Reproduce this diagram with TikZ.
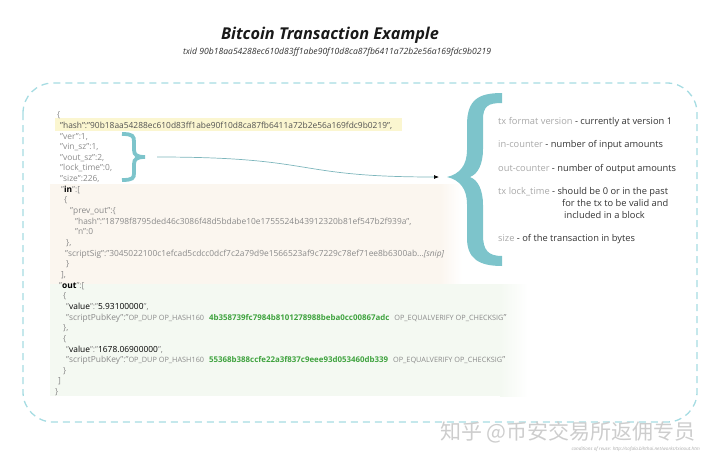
\documentclass[tikz,border=0pt]{standalone}
\usepackage{fontspec}
\setmainfont{Open Sans}
\newfontfamily\cjkfont{Noto Sans CJK SC}
\usetikzlibrary{arrows.meta,positioning}
\definecolor{bracecol}{HTML}{7DC4CB}
\definecolor{framecol}{HTML}{A6DCE2}
\definecolor{jsongray}{HTML}{8A8A8A}
\definecolor{darktext}{HTML}{333333}
\definecolor{lblgray}{HTML}{A8A8A8}
\definecolor{hashgreen}{HTML}{3FA33F}
\definecolor{hashyellow}{HTML}{FBF6D0}
\definecolor{inbeige}{HTML}{FBF6EF}
\definecolor{outgreen}{HTML}{F4F9F2}
\definecolor{wmgray}{HTML}{CDCDCD}
\newcommand{\opcode}[1]{{\fontsize{7.3}{9}\selectfont #1}}
\newcommand{\pubhash}[1]{\textcolor{hashgreen}{\fontsize{7.9}{9}\selectfont\bfseries #1}}

\begin{document}
\begin{tikzpicture}[x=1pt,y=-1pt,
  json/.style={anchor=base west,inner sep=0pt,font=\fontsize{8.4}{9}\selectfont,text=jsongray},
  note/.style={anchor=base west,inner sep=0pt,font=\fontsize{9.3}{10}\selectfont,text=darktext}]
\useasboundingbox (0,0) rectangle (720,461);
% background bands
\fill[hashyellow] (55,118) rectangle (402,131);
\fill[inbeige] (50,184) rectangle (440,284);
\shade[left color=inbeige,right color=white] (440,184) rectangle (462,284);
\fill[outgreen] (50,284) rectangle (500,396);
\shade[left color=outgreen,right color=white] (500,284) rectangle (528,396);
\draw[framecol,line width=1.3pt,dash pattern=on 7pt off 5pt,rounded corners=30pt] (23,83) rectangle (697,422);

% title
\node[font=\bfseries\itshape\fontsize{16.3}{18}\selectfont,text=black!90] (title) at (330,35) {Bitcoin Transaction Example};
\node[font=\itshape\fontsize{8.6}{9}\selectfont,text=darktext] (txid) at (337,52) {txid 90b18aa54288ec610d83ff1abe90f10d8ca87fb6411a72b2e56a169fdc9b0219};

% json lines
\foreach \k/\x/\t in {0/57/\{, 2/60/{"ver":1,}, 3/60/{"vin\_sz":1,}, 4/60/{"vout\_sz":2,},
    5/60/{"lock\_time":0,}, 6/60/{"size":226,}, 8/64/\{, 9/70/{"prev\_out":\{},
    10/75/{"hash":"18798f8795ded46c3086f48d5bdabe10e1755524b43912320b81ef547b2f939a",},
    11/75/{"n":0}, 12/66/{\},}, 14/66/\}, 15/61/{],}, 17/63/\{, 20/63/{\},}, 21/63/\{,
    24/63/\}, 25/58/], 26/55/\}}
  \node[json] (l\k) at (\x,117.7+10.65*\k) {\t};
\node[json,text=darktext!85] (l1) at (60,117.7+10.65) {"hash":"90b18aa54288ec610d83ff1abe90f10d8ca87fb6411a72b2e56a169fdc9b0219",};
\node[json] (l7) at (61,117.7+10.65*7) {"\textcolor{black}{\bfseries in}":[};
\node[json] (l13) at (65,117.7+10.65*13) {"scriptSig":"3045022100c1efcad5cdcc0dcf7c2a79d9e1566523af9c7229c78ef71ee8b6300ab...\textit{[snip]}};
\node[json] (l16) at (59,117.7+10.65*16) {"\textcolor{black}{\bfseries out}":[};
\node[json] (l18) at (66,117.7+10.65*18) {"\textcolor{black}{value}":"\textcolor{black}{5.93100000}",};
\node[json] (l19) at (66,117.7+10.65*19) {"scriptPubKey":"\opcode{OP\_DUP OP\_HASH160}\hspace{5pt}\pubhash{4b358739fc7984b8101278988beba0cc00867adc}\hspace{5pt}\opcode{OP\_EQUALVERIFY OP\_CHECKSIG}"};
\node[json] (l22) at (66,117.7+10.65*22) {"\textcolor{black}{value}":"\textcolor{black}{1678.06900000}",};
\node[json] (l23) at (66,117.7+10.65*23) {"scriptPubKey":"\opcode{OP\_DUP OP\_HASH160}\hspace{5pt}\pubhash{55368b388ccfe22a3f837c9eee93d053460db339}\hspace{5pt}\opcode{OP\_EQUALVERIFY OP\_CHECKSIG}"};

% small brace
\draw[bracecol,line width=3.8pt] (122,134) .. controls (133,134) and (134,136) .. (134,142) -- (134,150)
  .. controls (134,155) and (137,157) .. (145,157) .. controls (137,157) and (134,159) .. (134,164) -- (134,173)
  .. controls (134,178) and (133,180) .. (122,180);
% big brace
\fill[bracecol] (502,93) .. controls (478,93) and (467,100) .. (467,125) -- (467,150)
  .. controls (467,165) and (460,174) .. (447,177) .. controls (460,180) and (467,189) .. (467,204) -- (467,238)
  .. controls (467,258) and (478,266) .. (502,266) -- (502,256)
  .. controls (488,256) and (483,250) .. (483,235) -- (483,205)
  .. controls (483,190) and (478,180) .. (470,177) .. controls (478,174) and (483,164) .. (483,149) -- (483,120)
  .. controls (483,106) and (488,103) .. (502,103) -- cycle;

\coordinate (fromsmall) at (157,157);
\coordinate (tobig) at (439,177);
\draw[bracecol!80!gray,line width=0.7pt,-{Latex[length=5pt,width=4pt,color=black]}] (fromsmall) .. controls (320,157) and (290,177) .. (tobig);

% notes
\node[note] (ver) at (498,124.3) {\textcolor{lblgray}{tx format version} - currently at version 1};
\node[note] (incnt) at (498,147.3) {\textcolor{lblgray}{in-counter} - number of input amounts};
\node[note] (outcnt) at (498,171.3) {\textcolor{lblgray}{out-counter} - number of output amounts};
\node[note] (lock) at (498,194.3) {\textcolor{lblgray}{tx lock\_time} - should be 0 or in the past};
\node[note] (lock2) at (562,206.3) {for the tx to be valid and};
\node[note] (lock3) at (564,218.3) {included in a block};
\node[note] (size) at (498,241.3) {\textcolor{lblgray}{size} - of the transaction in bytes};

% watermark
\node[font=\cjkfont\fontsize{21}{23}\selectfont,text=wmgray,anchor=west,inner sep=0pt] (wm) at (440,432) {知乎 @币安交易所返佣专员};
\node[font=\itshape\fontsize{4.6}{5}\selectfont,text=lblgray,anchor=east,inner sep=0pt] (reuse) at (700,449) {conditions of reuse: http://sofala.bihthai.net/works/txinout.htm};
\end{tikzpicture}
\end{document}
